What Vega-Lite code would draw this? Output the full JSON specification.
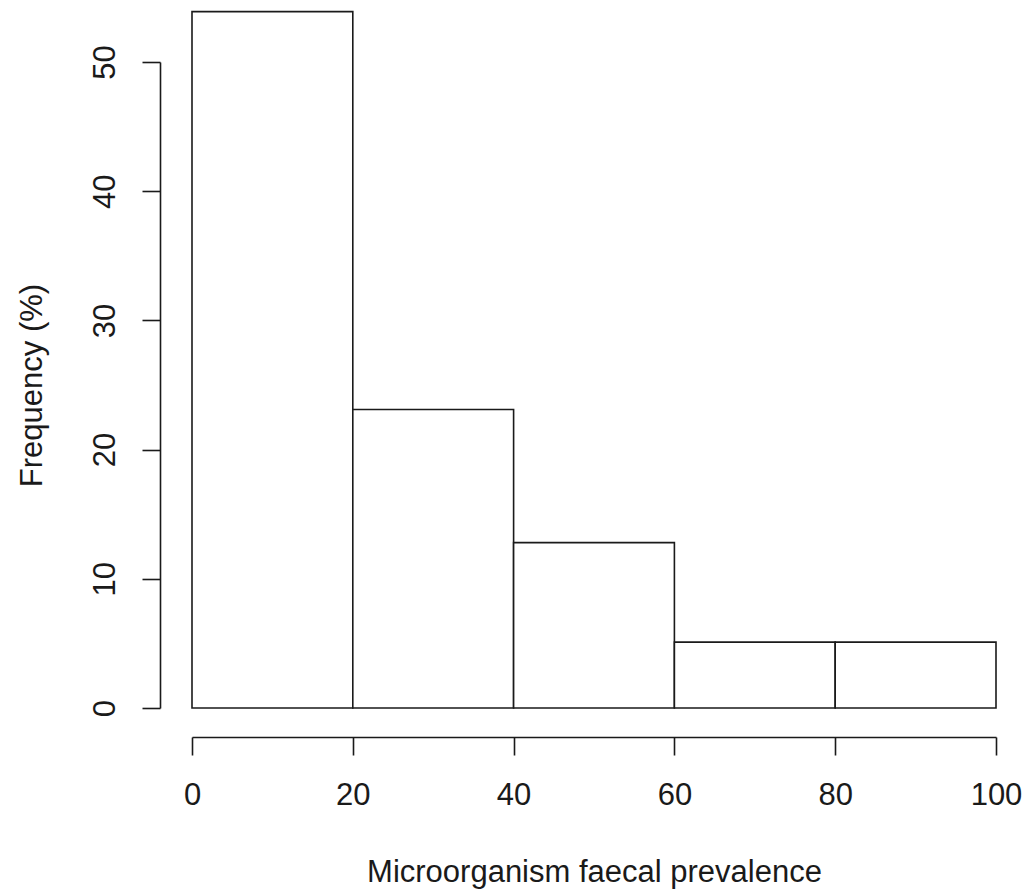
{
  "$schema": "https://vega.github.io/schema/vega-lite/v6.json",
  "autosize": {"type": "none"},
  "padding": {"left": 192, "top": 62, "right": 31, "bottom": 187},
  "width": 804,
  "height": 646,
  "background": "white",
  "config": {
    "view": {"stroke": null},
    "font": "Liberation Sans",
    "axis": {
      "grid": false,
      "domainColor": "#1a1a1a",
      "domainWidth": 1.6,
      "tickColor": "#1a1a1a",
      "tickWidth": 1.6,
      "tickSize": 18,
      "labelFont": "Liberation Sans",
      "labelFontSize": 31,
      "labelColor": "#1a1a1a",
      "titleFont": "Liberation Sans",
      "titleFontSize": 31,
      "titleFontWeight": "normal",
      "titleColor": "#1a1a1a"
    }
  },
  "data": {
    "values": [
      {"bin_start": 0, "bin_end": 20, "frequency": 53.9},
      {"bin_start": 20, "bin_end": 40, "frequency": 23.1},
      {"bin_start": 40, "bin_end": 60, "frequency": 12.8},
      {"bin_start": 60, "bin_end": 80, "frequency": 5.1},
      {"bin_start": 80, "bin_end": 100, "frequency": 5.1}
    ]
  },
  "mark": {"type": "rect", "fill": "white", "stroke": "#1a1a1a", "strokeWidth": 1.6, "clip": false},
  "encoding": {
    "x": {
      "field": "bin_start",
      "type": "quantitative",
      "scale": {"domain": [0, 100], "nice": false, "zero": true},
      "axis": {
        "title": "Microorganism faecal prevalence",
        "values": [0, 20, 40, 60, 80, 100],
        "offset": 29,
        "labelPadding": 25,
        "titlePadding": 47,
        "labelFlush": false,
        "labelOverlap": false
      }
    },
    "x2": {"field": "bin_end"},
    "y": {
      "field": "frequency",
      "type": "quantitative",
      "scale": {"domain": [0, 50], "nice": false, "zero": true},
      "axis": {
        "title": "Frequency (%)",
        "values": [0, 10, 20, 30, 40, 50],
        "offset": 32,
        "labelAngle": -90,
        "labelAlign": "center",
        "labelBaseline": "bottom",
        "labelPadding": 21,
        "titlePadding": 41,
        "labelFlush": false,
        "labelOverlap": false
      }
    },
    "y2": {"datum": 0}
  }
}
